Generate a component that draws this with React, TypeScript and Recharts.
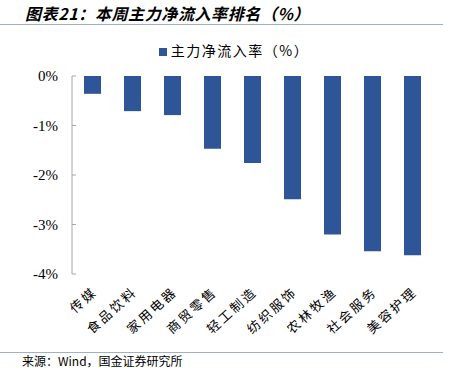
import React from "react";
import { BarChart, Bar, XAxis, YAxis, Legend } from "recharts";

const categories = ["传媒", "食品饮料", "家用电器", "商贸零售", "轻工制造", "纺织服饰", "农林牧渔", "社会服务", "美容护理"];
const netInflowRate = [-0.36, -0.71, -0.79, -1.47, -1.76, -2.49, -3.2, -3.54, -3.62];
const yTicks = [0, -1, -2, -3, -4];
const boundaryTicks = [0, 1, 2, 3, 4, 5, 6, 7, 8, 9];

const data = categories.map((name, i) => ({ name, value: netInflowRate[i] }));

const axisGray = "#a6a6a6";
const barBlue = "#2e5597";
const cjk = '"Noto Sans CJK SC", sans-serif';

const CatTick = (props: any) => {
  const { x, y, payload } = props;
  const ax = x + 6;
  const ay = y + 19;
  return (
    <text
      x={ax}
      y={ay}
      textAnchor="end"
      transform={`rotate(-42, ${ax}, ${ay})`}
      fontSize={13}
      letterSpacing={2.5}
      fill="#000"
      fontFamily={cjk}
    >
      {payload.value}
    </text>
  );
};

const ValueTick = (props: any) => {
  const { x, y, payload } = props;
  return (
    <g>
      <line x1={x + 14} x2={x + 18} y1={y} y2={y} stroke={axisGray} />
      <text
        x={x}
        y={y}
        dy={5}
        textAnchor="end"
        fontSize={15}
        fill="#000"
        style={{ fontFamily: '"Liberation Serif", "DejaVu Serif", serif' }}
      >
        {`${payload.value}%`}
      </text>
    </g>
  );
};

export default function App() {
  return (
    <div style={{ position: "fixed", left: 0, top: 0, width: 452, height: 368, background: "#fff", overflow: "hidden" }}>
      <div
        style={{
          position: "absolute",
          left: 25,
          top: 3,
          fontSize: 16,
          fontWeight: "bold",
          fontStyle: "italic",
          fontFamily: cjk,
          letterSpacing: 0.6,
          color: "#000",
          whiteSpace: "nowrap",
          lineHeight: "20px",
        }}
      >
        图表21：本周主力净流入率排名（%）
      </div>
      <div style={{ position: "absolute", left: 0, top: 24, width: 443, borderTop: "1px solid #9fb1c6" }} />
      <BarChart width={452} height={368} data={data} margin={{ top: 76, right: 20, bottom: 34, left: 12 }}>
        <XAxis
          xAxisId="top"
          type="number"
          orientation="top"
          domain={[0, 9]}
          ticks={boundaryTicks}
          allowDataOverflow
          height={0}
          tick={false}
          tickSize={4}
          stroke={axisGray}
        />
        <XAxis
          xAxisId="cat"
          dataKey="name"
          axisLine={false}
          tickLine={false}
          tickSize={0}
          tickMargin={0}
          height={60}
          interval={0}
          tick={<CatTick />}
        />
        <YAxis
          domain={[-4, 0]}
          ticks={yTicks}
          width={60}
          tickSize={0}
          tickMargin={14}
          stroke={axisGray}
          tick={<ValueTick />}
        />
        <Legend
          layout="horizontal"
          verticalAlign="middle"
          align="center"
          iconType="square"
          iconSize={8}
          wrapperStyle={{ top: 40, left: 8, width: 462, fontFamily: cjk, fontSize: 14, letterSpacing: 1.5 }}
          formatter={(v: string) => <span style={{ color: "#000" }}>{v}</span>}
        />
        <Bar
          xAxisId="cat"
          dataKey="value"
          name="主力净流入率（%）"
          fill={barBlue}
          barSize={17}
          isAnimationActive={false}
        />
      </BarChart>
      <div style={{ position: "absolute", left: 0, top: 352, width: 443, borderTop: "1px solid #9fb1c6" }} />
      <div
        style={{
          position: "absolute",
          left: 22,
          top: 354,
          fontSize: 12,
          fontFamily: cjk,
          color: "#000",
          whiteSpace: "nowrap",
          lineHeight: "14px",
        }}
      >
        来源：Wind，国金证券研究所
      </div>
    </div>
  );
}
